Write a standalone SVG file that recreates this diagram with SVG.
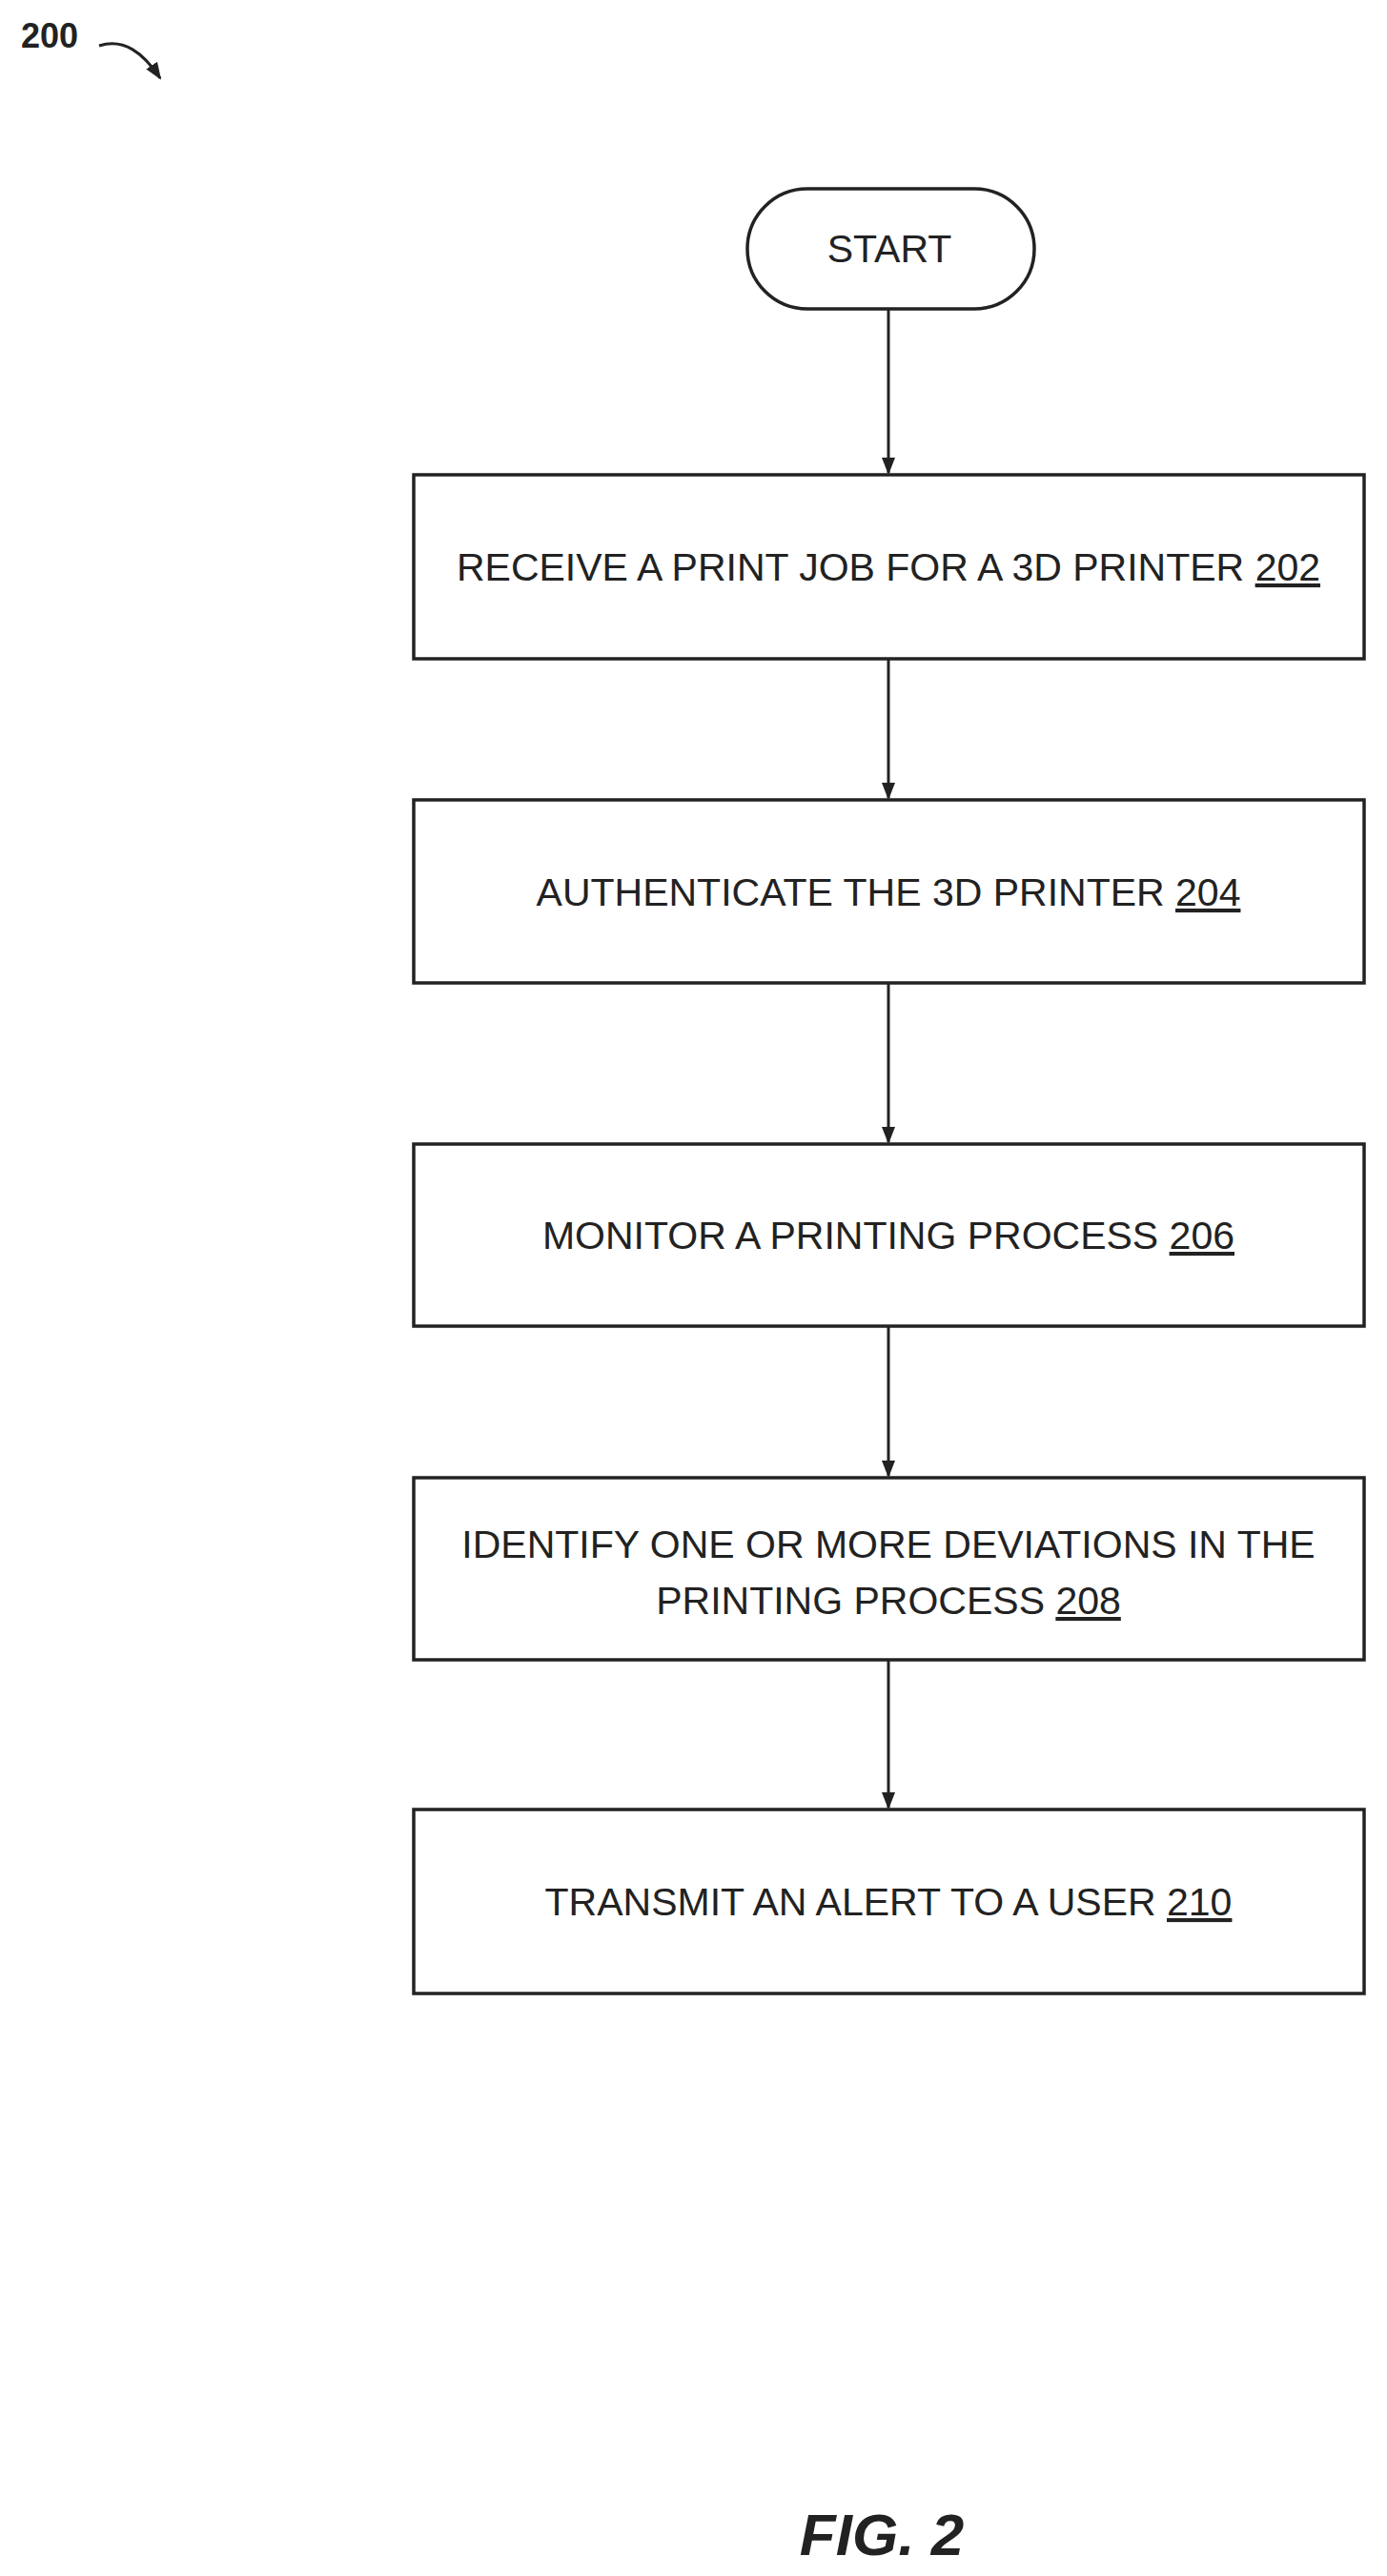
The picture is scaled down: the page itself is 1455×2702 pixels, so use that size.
<svg xmlns="http://www.w3.org/2000/svg" width="1455" height="2702" viewBox="0 0 1455 2702">
<style>
.box{fill:#fff;stroke:#222;stroke-width:3.5}
.t{font-family:"Liberation Sans",Arial,sans-serif;font-size:41px;fill:#222;text-anchor:middle}
.c{stroke:#222;stroke-width:3;fill:none}
</style>
<defs>
<marker id="b" markerWidth="18" markerHeight="18" refX="16" refY="9" orient="auto" markerUnits="userSpaceOnUse" viewBox="0 0 18 18"><path d="M0,2 L18,9 L0,16 Z" fill="#222"/></marker></defs>
<rect width="1455" height="2702" fill="#fff"/>
<g id="label200"><text x="52" y="50" style="font-family:'Liberation Sans',Arial,sans-serif;font-size:36px;font-weight:bold;fill:#222" text-anchor="middle">200</text></g>
<g id="start"><rect class="box" x="784" y="198" width="301" height="126" rx="63"/><text class="t" x="933" y="275">START</text></g>
<g id="n202"><rect class="box" x="434" y="498" width="997" height="193"/><text class="t" x="932" y="609">RECEIVE A PRINT JOB FOR A 3D PRINTER <tspan text-decoration="underline">202</tspan></text></g>
<g id="n204"><rect class="box" x="434" y="839" width="997" height="192"/><text class="t" x="932" y="950">AUTHENTICATE THE 3D PRINTER <tspan text-decoration="underline">204</tspan></text></g>
<g id="n206"><rect class="box" x="434" y="1200" width="997" height="191"/><text class="t" x="932" y="1310">MONITOR A PRINTING PROCESS <tspan text-decoration="underline">206</tspan></text></g>
<g id="n208"><rect class="box" x="434" y="1550" width="997" height="191"/><text class="t" x="932" y="1634">IDENTIFY ONE OR MORE DEVIATIONS IN THE</text><text class="t" x="932" y="1693">PRINTING PROCESS <tspan text-decoration="underline">208</tspan></text></g>
<g id="n210"><rect class="box" x="434" y="1898" width="997" height="193"/><text class="t" x="932" y="2009">TRANSMIT AN ALERT TO A USER <tspan text-decoration="underline">210</tspan></text></g>
<g id="connectors">
<path class="c" d="M104,48 C130,40 150,55 168,82" marker-end="url(#b)"/>
<line class="c" x1="932" y1="324" x2="932" y2="496" marker-end="url(#b)"/>
<line class="c" x1="932" y1="691" x2="932" y2="837" marker-end="url(#b)"/>
<line class="c" x1="932" y1="1031" x2="932" y2="1198" marker-end="url(#b)"/>
<line class="c" x1="932" y1="1391" x2="932" y2="1548" marker-end="url(#b)"/>
<line class="c" x1="932" y1="1741" x2="932" y2="1896" marker-end="url(#b)"/>
</g>
<text x="925" y="2680" style="font-family:'Liberation Sans',Arial,sans-serif;font-size:62px;font-weight:bold;font-style:italic;fill:#222" text-anchor="middle">FIG. 2</text>
</svg>
